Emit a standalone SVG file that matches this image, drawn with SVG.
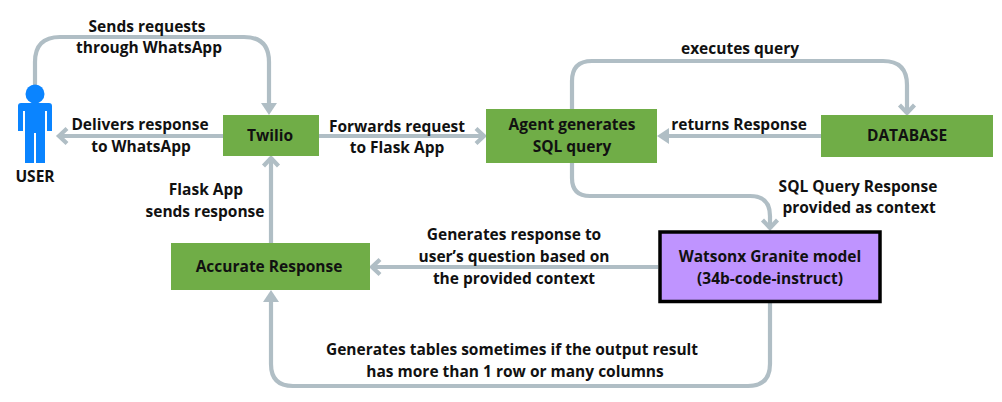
<svg xmlns="http://www.w3.org/2000/svg" width="1002" height="402" viewBox="0 0 1002 402">
<style>
.c{fill:none;stroke:#b0bec5;stroke-width:4.200}
.h{fill:#b0bec5}
.b{fill:#70ad47}
text{font-family:"Open Sans","Noto Sans",sans-serif;font-weight:700;font-size:15.500px;fill:#111;text-anchor:middle}
</style>
<defs>
<marker id="a" markerUnits="userSpaceOnUse" markerWidth="20" markerHeight="20" refX="14" refY="10" orient="auto"><path d="M5 2.500L13 10L5 17.500" fill="none" stroke="#b0bec5" stroke-width="4.200"/></marker>
</defs>
<rect width="1002" height="402" fill="#fff"/>
<g id="connectors">
<path class="c" d="M35 86V62Q35 37 60 37H244Q269 37 269 62V105"/>
<polygon class="h" points="261,103 277,103 269,115"/>
<path class="c" marker-end="url(#a)" d="M223 136H58"/>
<path class="c" marker-end="url(#a)" d="M319 136H485"/>
<path class="c" d="M821 136H667"/>
<polygon class="h" points="657,136 669,128 669,144"/>
<path class="c" marker-end="url(#a)" d="M572 109V81Q572 61 592 61H883Q907 61 907 85V114"/>
<path class="c" marker-end="url(#a)" d="M572 163V178Q572 196 590 196H750Q770 196 770 216V229"/>
<path class="c" marker-end="url(#a)" d="M658 267H371"/>
<path class="c" marker-end="url(#a)" d="M271 243V157"/>
<path class="c" d="M770 303V364Q770 386 748 386H293Q271 386 271 364V300"/>
<polygon class="h" points="263,302 279,302 271,290"/>
</g>
<g id="user"><circle cx="35" cy="94" r="9.500" fill="#0a84ff"/><path d="M21 103H49Q52 103 52 106V131H47V111H45V163H36V133H34V163H25V111H23V131H18V106Q18 103 21 103Z" fill="#0a84ff"/><text x="35" y="182">USER</text></g>
<g id="twilio"><rect class="b" x="223" y="115" width="96" height="41"/><text x="270" y="141">Twilio</text></g>
<g id="agent"><rect class="b" x="486" y="109" width="171" height="54"/><text x="572" y="130">Agent generates</text><text x="572" y="152">SQL query</text></g>
<g id="database"><rect class="b" x="821" y="115" width="172" height="42"/><text x="907" y="141">DATABASE</text></g>
<g id="accurate"><rect class="b" x="171" y="243" width="199" height="47"/><text x="269" y="272">Accurate Response</text></g>
<g id="watsonx"><rect x="660" y="232" width="220" height="69.500" fill="#bf94ff" stroke="#000" stroke-width="3.500"/><text x="770" y="262">Watsonx Granite model</text><text x="770" y="284">(34b-code-instruct)</text></g>
<g id="labels">
<text x="147" y="32">Sends requests</text><text x="149" y="53">through WhatsApp</text>
<text x="140" y="130">Delivers response</text><text x="141" y="152">to WhatsApp</text>
<text x="397" y="132">Forwards request</text><text x="397" y="153">to Flask App</text>
<text x="740" y="54">executes query</text>
<text x="739" y="130">returns Response</text>
<text x="858" y="192">SQL Query Response</text><text x="859" y="213">provided as context</text>
<text x="206" y="195">Flask App</text><text x="205" y="217">sends response</text>
<text x="514" y="240">Generates response to</text><text x="514" y="262">user’s question based on</text><text x="514" y="284">the provided context</text>
<text x="512" y="355">Generates tables sometimes if the output result</text><text x="515" y="377">has more than 1 row or many columns</text>
</g>
</svg>
